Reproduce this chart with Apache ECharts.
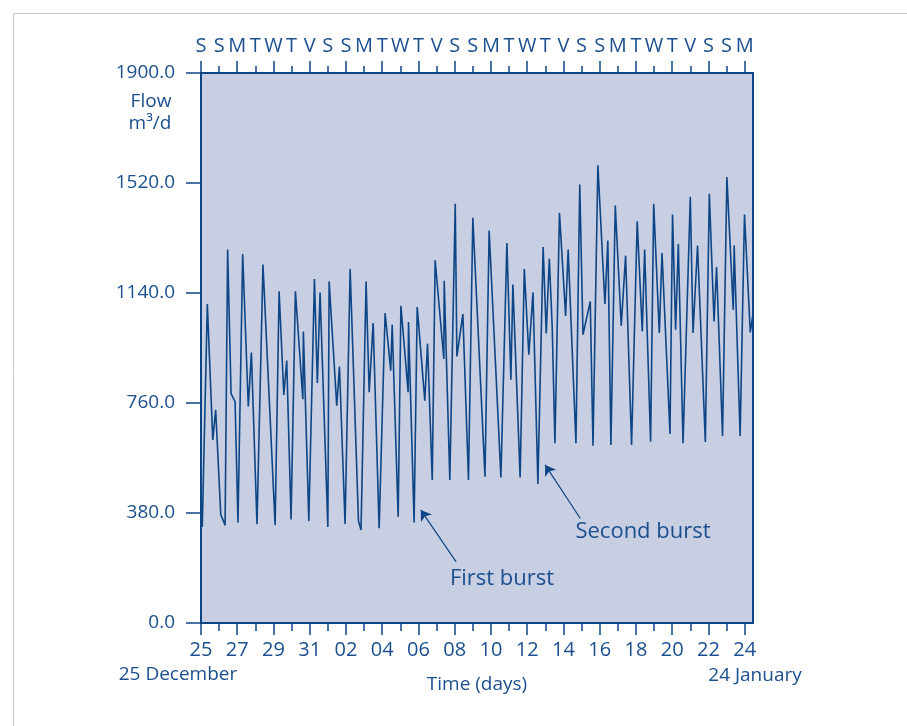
<!DOCTYPE html>
<html>
<head>
<meta charset="utf-8">
<script src="https://cdn.jsdelivr.net/npm/echarts@6/dist/echarts.min.js"></script>
<style>
  html, body { margin: 0; padding: 0; background: #fff; }
  #chart { width: 907px; height: 726px; }
</style>
</head>
<body>
<div id="chart"></div>
<script>
// time in days from 25 December, flow in m3/d
const days = [
  0.07, 0.35, 0.65, 0.81, 1.09, 1.33, 1.47, 1.66, 1.88, 2.04,
  2.30, 2.61, 2.78, 3.09, 3.42, 4.09, 4.31, 4.57, 4.73, 4.97,
  5.21, 5.62, 5.65, 5.95, 6.26, 6.42, 6.57, 7.00, 7.07, 7.49,
  7.64, 7.95, 8.23, 8.69, 8.83, 9.11, 9.28, 9.50, 9.83, 10.16,
  10.47, 10.55, 10.88, 11.03, 11.43, 11.45, 11.76, 11.93, 12.35, 12.50,
  12.76, 12.92, 13.40, 13.42, 13.73, 14.03, 14.12, 14.45, 14.76, 15.00,
  15.67, 15.90, 16.55, 16.88, 17.10, 17.21, 17.61, 17.84, 18.09, 18.32,
  18.59, 18.88, 19.05, 19.22, 19.38, 19.53, 19.78, 20.12, 20.26, 20.69,
  20.90, 21.08, 21.48, 21.63, 21.90, 22.29, 22.45, 22.62, 22.86, 23.19,
  23.43, 23.76, 24.07, 24.35, 24.48, 24.81, 24.98, 25.29, 25.44, 25.88,
  26.02, 26.19, 26.34, 26.60, 27.00, 27.15, 27.40, 27.83, 28.05, 28.31,
  28.45, 28.78, 29.02, 29.37, 29.42, 29.75, 29.99, 30.31, 30.44
];
const flow = [
  332, 1102, 632, 736, 375, 338, 1290, 792, 765, 347,
  1275, 748, 934, 341, 1238, 338, 1146, 788, 907, 358,
  1146, 773, 1007, 352, 1188, 829, 1142, 332, 1180, 751,
  886, 342, 1223, 352, 321, 1180, 797, 1036, 327, 1071,
  872, 1030, 367, 1096, 797, 1040, 347, 1092, 768, 965,
  494, 1253, 912, 1182, 494, 1448, 921, 1067, 494, 1400,
  505, 1356, 503, 1313, 840, 1169, 503, 1223, 927, 1142,
  480, 1299, 1000, 1258, 1024, 621, 1417, 1061, 1290, 621,
  1515, 996, 1111, 612, 1581, 1102, 1321, 615, 1442, 1027,
  1269, 615, 1388, 1007, 1290, 626, 1448, 1002, 1278, 653,
  1411, 1013, 1310, 621, 1472, 1002, 1304, 625, 1483, 1042,
  1230, 646, 1541, 1082, 1304, 646, 1411, 1004, 1059
];
const dateLabels = ['25', '27', '29', '31', '02', '04', '06', '08', '10', '12',
  '14', '16', '18', '20', '22', '24'];
const weekLetters = ['S', 'S', 'M', 'T', 'W', 'T', 'V', 'S', 'S', 'M', 'T', 'W', 'T', 'V',
  'S', 'S', 'M', 'T', 'W', 'T', 'V', 'S', 'S', 'M', 'T', 'W', 'T', 'V', 'S', 'S', 'M'];
const yTicks = [0, 380, 760, 1140, 1520, 1900];

const navy = '#0d4586';
const textColor = '#1b4f8f';
const font = 'Open Sans';
const xMax = 30.46;

const evenDays = dateLabels.map((d, i) => i * 2);
const oddDays = weekLetters.map((d, i) => i).filter(i => i % 2 === 1);
const allDays = weekLetters.map((d, i) => i);

const chart = echarts.init(document.getElementById('chart'));

const gridBox = { left: 201, right: 154, top: 73, bottom: 103 };

const option = {
  animation: false,
  backgroundColor: '#fff',
  textStyle: { fontFamily: font },
  grid: [
    Object.assign({ show: true, backgroundColor: '#c8cfe2', borderColor: navy, borderWidth: 2 }, gridBox),
    Object.assign({ show: false }, gridBox)
  ],
  xAxis: [
    {
      gridIndex: 0, type: 'value', position: 'bottom', min: 0, max: xMax,
      axisLine: { show: true, lineStyle: { color: navy, width: 2 } },
      axisTick: { show: true, customValues: evenDays, length: 12, lineStyle: { color: navy, width: 1.5 } },
      axisLabel: {
        customValues: evenDays, margin: 17, fontSize: 20, color: textColor, fontFamily: font,
        formatter: v => dateLabels[Math.round(v / 2)]
      },
      splitLine: { show: false }
    },
    {
      gridIndex: 0, type: 'value', position: 'top', min: 0, max: xMax,
      axisLine: { show: true, lineStyle: { color: navy, width: 2 } },
      axisTick: { show: true, customValues: evenDays, length: 12, lineStyle: { color: navy, width: 1.5 } },
      axisLabel: {
        customValues: allDays, margin: 17, fontSize: 20, color: textColor, fontFamily: font,
        formatter: v => weekLetters[Math.round(v)]
      },
      splitLine: { show: false }
    },
    {
      gridIndex: 1, type: 'value', position: 'bottom', min: 0, max: xMax,
      axisLine: { show: false },
      axisTick: { show: true, customValues: oddDays, length: 8, lineStyle: { color: navy, width: 1.5 } },
      axisLabel: { show: false },
      splitLine: { show: false }
    },
    {
      gridIndex: 1, type: 'value', position: 'top', min: 0, max: xMax,
      axisLine: { show: false },
      axisTick: { show: true, customValues: oddDays, length: 7, lineStyle: { color: navy, width: 1.5 } },
      axisLabel: { show: false },
      splitLine: { show: false }
    }
  ],
  yAxis: [
    {
      gridIndex: 0, type: 'value', min: yTicks[0], max: yTicks[yTicks.length - 1], interval: 380,
      axisLine: { show: true, lineStyle: { color: navy, width: 2 } },
      axisTick: { show: true, length: 15, lineStyle: { color: navy, width: 1.5 } },
      axisLabel: { margin: 26, fontSize: 19, color: textColor, fontFamily: font, formatter: v => v.toFixed(1) },
      splitLine: { show: false }
    },
    { gridIndex: 1, type: 'value', min: 0, max: 1900, show: false }
  ],
  series: [
    {
      type: 'line',
      xAxisIndex: 0,
      yAxisIndex: 0,
      data: days.map((d, i) => [d, flow[i]]),
      symbol: 'none',
      lineStyle: { color: navy, width: 1.6 },
      markLine: {
        silent: true,
        symbol: ['none', 'arrow'],
        symbolSize: 10,
        label: { show: false },
        lineStyle: { color: navy, width: 1.2, type: 'solid' },
        data: [
          [{ coord: [14.08, 211] }, { coord: [12.13, 390] }],
          [{ coord: [20.93, 361] }, { coord: [18.99, 546] }]
        ]
      }
    }
  ],
  graphic: [
    { type: 'rect', silent: true, shape: { x: 13.5, y: 13.5, width: 1000, height: 1000 },
      style: { fill: 'none', stroke: '#c9c9c9', lineWidth: 1 } },
    { type: 'text', x: 151, y: 102, style: { text: 'Flow', font: '19px "Open Sans"', fill: textColor, align: 'center', verticalAlign: 'middle' } },
    { type: 'text', x: 150, y: 124, style: { text: 'm³/d', font: '19px "Open Sans"', fill: textColor, align: 'center', verticalAlign: 'middle' } },
    { type: 'text', x: 178, y: 675, style: { text: '25 December', font: '19px "Open Sans"', fill: textColor, align: 'center', verticalAlign: 'middle' } },
    { type: 'text', x: 477, y: 685, style: { text: 'Time (days)', font: '19px "Open Sans"', fill: textColor, align: 'center', verticalAlign: 'middle' } },
    { type: 'text', x: 755, y: 676, style: { text: '24 January', font: '19px "Open Sans"', fill: textColor, align: 'center', verticalAlign: 'middle' } },
    { type: 'text', x: 502, y: 579, style: { text: 'First burst', font: '22px "Open Sans"', fill: textColor, align: 'center', verticalAlign: 'middle' } },
    { type: 'text', x: 643, y: 532, style: { text: 'Second burst', font: '22px "Open Sans"', fill: textColor, align: 'center', verticalAlign: 'middle' } }
  ]
};

chart.setOption(option);
</script>
</body>
</html>
